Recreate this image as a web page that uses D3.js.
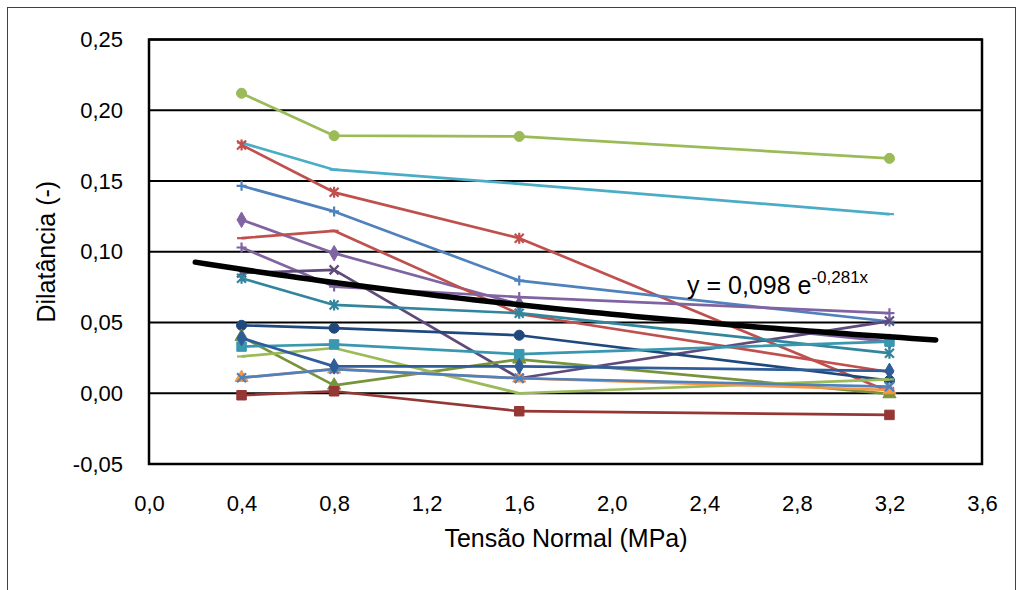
<html>
<head>
<meta charset="UTF-8">
<title>Dilatância x Tensão Normal</title>
<script src="https://d3js.org/d3.v7.min.js"></script>
<style>
html,body{margin:0;padding:0;background:#fff;}
#container{width:1022px;height:590px;}
text{font-family:"Liberation Sans",Arial,sans-serif;fill:#000;}
</style>
</head>
<body>
<div id="container"></div>
<script>
// tensão normal (MPa) dos ensaios
const tensao = [0.4, 0.8, 1.6, 3.2];

// dilatância de cada ensaio
const s01 = [0.212, 0.182, 0.1815, 0.166];
const s02 = [0.177, 0.158, 0.148, 0.1266];
const s03 = [0.1755, 0.142, 0.1096, 0.001];
const s04 = [0.1466, 0.1285, 0.0796, 0.0507];
const s05 = [0.1226, 0.099, 0.063, 0.0365];
const s06 = [0.1096, 0.1148, 0.056, 0.015];
const s07 = [0.103, 0.0754, 0.068, 0.0566];
const s08 = [0.085, 0.0872, 0.0106, 0.051];
const s09 = [0.0813, 0.0624, 0.0566, 0.0283];
const s10 = [0.048, 0.046, 0.041, 0.009];
const s11 = [0.040, 0.0056, 0.024, -0.0005];
const s12 = [0.026, 0.032, 0.0, 0.0098];
const s13 = [0.033, 0.0345, 0.0276, 0.0365];
const s14 = [0.011, 0.017, 0.0106, 0.0023];
const s15 = [0.011, 0.017, 0.0106, 0.0047];
const s16 = [0.039, 0.019, 0.019, 0.0158];
const s17 = [-0.0014, 0.0014, -0.0127, -0.0153];

const series = [s01, s02, s03, s04, s05, s06, s07, s08, s09, s10, s11, s12, s13, s14, s15, s16, s17];
const seriesColors = ['#9bbb59', '#4bacc6', '#c0504d', '#4f81bd', '#8064a2', '#c0504d', '#8064a2', '#604a7b',
  '#31859c', '#1f497d', '#77933c', '#9bbb59', '#3a97b0', '#f79646', '#4f81bd', '#2e5d99', '#953735'];
const seriesMarkers = ['circle', 'dash', 'star', 'plus', 'diamond', 'dash', 'plus', 'x',
  'star', 'circle', 'triangle', 'dash', 'square', 'triangle', 'x', 'diamond', 'square'];

// linha de tendência y = a e^(b x)
const trendA = 0.098, trendB = -0.281;
const trendRange = [0.2, 3.4];

const xTicks = [0, 0.4, 0.8, 1.2, 1.6, 2.0, 2.4, 2.8, 3.2, 3.6];
const yTicks = [-0.05, 0, 0.05, 0.10, 0.15, 0.20, 0.25];

const width = 1022, height = 590;
const plot = {left: 149, right: 982, top: 39.5, bottom: 464};

const locale = d3.formatLocale({decimal: ",", thousands: ".", grouping: [3], currency: ["", ""], minus: "-"});

const svg = d3.select("#container").append("svg")
  .attr("width", width).attr("height", height);

// moldura externa
svg.append("rect")
  .attr("x", 7.5).attr("y", 7.5)
  .attr("width", 1008).attr("height", 600)
  .attr("fill", "none").attr("stroke", "#404040").attr("stroke-width", 1);

const x = d3.scaleLinear().domain([0, 3.6]).range([plot.left, plot.right]);
const y = d3.scaleLinear().domain([-0.05, 0.25]).range([plot.bottom, plot.top]);

// grade
svg.append("g").selectAll("line").data(yTicks).join("line")
  .attr("x1", plot.left).attr("x2", plot.right)
  .attr("y1", d => y(d)).attr("y2", d => y(d))
  .attr("stroke", "#000").attr("stroke-width", 2);

// eixos
const yAxis = d3.axisLeft(y).tickValues(yTicks).tickFormat(locale.format(".2f")).tickSize(0).tickPadding(26);
svg.append("g").attr("transform", `translate(${plot.left},0)`).call(yAxis)
  .call(g => g.select(".domain").remove())
  .selectAll("text").attr("font-size", 22).attr("font-family", "Liberation Sans, Arial, sans-serif");

const xAxis = d3.axisBottom(x).tickValues(xTicks).tickFormat(locale.format(".1f")).tickSize(0).tickPadding(31);
svg.append("g").attr("transform", `translate(0,${plot.bottom})`).call(xAxis)
  .call(g => g.select(".domain").remove())
  .selectAll("text").attr("font-size", 22).attr("font-family", "Liberation Sans, Arial, sans-serif");

svg.append("rect")
  .attr("x", plot.left).attr("y", plot.top)
  .attr("width", plot.right - plot.left).attr("height", plot.bottom - plot.top)
  .attr("fill", "none").attr("stroke", "#000").attr("stroke-width", 2.5);

// títulos
svg.append("text")
  .attr("x", 566).attr("y", 547)
  .attr("text-anchor", "middle").attr("font-size", 25)
  .text("Tensão Normal (MPa)");

svg.append("text")
  .attr("transform", `translate(55,${(plot.top + plot.bottom) / 2}) rotate(-90)`)
  .attr("text-anchor", "middle").attr("font-size", 25)
  .text("Dilatância (-)");

// séries
const line = d3.line().x((d, i) => x(tensao[i])).y(d => y(d));

function markerPath(type) {
  const p = d3.path();
  if (type === 'plus') { p.moveTo(-5, 0); p.lineTo(5, 0); p.moveTo(0, -5); p.lineTo(0, 5); }
  if (type === 'x') { p.moveTo(-4.5, -4.5); p.lineTo(4.5, 4.5); p.moveTo(-4.5, 4.5); p.lineTo(4.5, -4.5); }
  if (type === 'star') {
    p.moveTo(-4.5, -4.5); p.lineTo(4.5, 4.5); p.moveTo(-4.5, 4.5); p.lineTo(4.5, -4.5);
    p.moveTo(0, -5.5); p.lineTo(0, 5.5);
  }
  if (type === 'dash') { p.moveTo(-4.5, 0); p.lineTo(4.5, 0); }
  return p.toString();
}
const filled = {
  circle: d3.symbol(d3.symbolCircle, 80)(),
  square: d3.symbol(d3.symbolSquare, 90)(),
  triangle: d3.symbol(d3.symbolTriangle, 75)(),
  diamond: d3.symbol(d3.symbolDiamond, 70)()
};

const gs = svg.append("g").selectAll("g").data(series).join("g");

gs.append("path")
  .attr("d", d => line(d))
  .attr("fill", "none")
  .attr("stroke", (d, i) => seriesColors[i])
  .attr("stroke-width", 2.7)
  .attr("stroke-linejoin", "round");

gs.each(function (vals, si) {
  const type = seriesMarkers[si];
  const col = seriesColors[si];
  d3.select(this).selectAll(".mk").data(vals).join("path")
    .attr("class", "mk")
    .attr("transform", (d, i) => `translate(${x(tensao[i])},${y(d)})`)
    .attr("d", filled[type] || markerPath(type))
    .attr("fill", filled[type] ? col : "none")
    .attr("stroke", col)
    .attr("stroke-width", filled[type] ? 1 : 2.2);
});

// tendência
const trendX = d3.range(trendRange[0], trendRange[1] + 0.001, 0.05);
svg.append("path")
  .attr("d", d3.line().x(d => x(d)).y(d => y(trendA * Math.exp(trendB * d)))(trendX))
  .attr("fill", "none").attr("stroke", "#000").attr("stroke-width", 5.5)
  .attr("stroke-linecap", "round");

const eq = svg.append("text").attr("x", 687).attr("y", 294).attr("font-size", 25);
eq.append("tspan").text("y = 0,098 e");
eq.append("tspan").attr("dy", -11).attr("font-size", 17).text("-0,281x");
</script>
</body>
</html>
